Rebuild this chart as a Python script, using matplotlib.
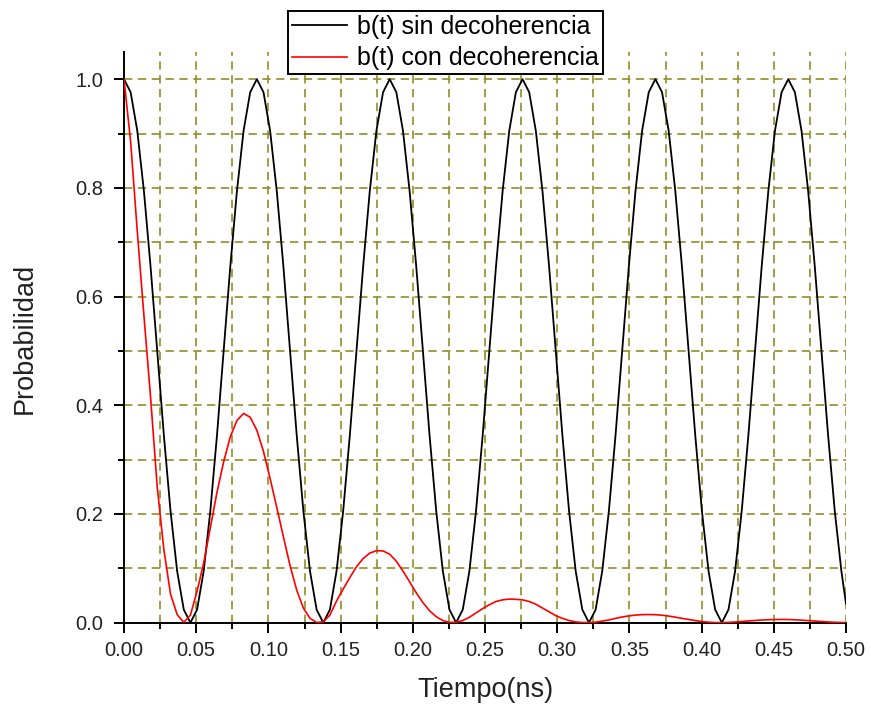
import matplotlib
matplotlib.use('Agg')
import matplotlib.pyplot as plt
from matplotlib.ticker import MultipleLocator, FormatStrFormatter

plt.rcParams['font.family'] = ['Liberation Sans', 'DejaVu Sans']

# time samples (ns)
t_ns = [
    0.0000, 0.0046, 0.0092, 0.0138, 0.0184, 0.0230, 0.0276, 0.0322, 0.0368, 0.0414,
    0.0460, 0.0506, 0.0552, 0.0598, 0.0644, 0.0690, 0.0736, 0.0782, 0.0828, 0.0874,
    0.0920, 0.0966, 0.1012, 0.1058, 0.1104, 0.1150, 0.1196, 0.1242, 0.1288, 0.1334,
    0.1380, 0.1426, 0.1472, 0.1518, 0.1564, 0.1610, 0.1656, 0.1702, 0.1748, 0.1794,
    0.1840, 0.1886, 0.1932, 0.1978, 0.2024, 0.2070, 0.2116, 0.2162, 0.2208, 0.2254,
    0.2300, 0.2346, 0.2392, 0.2438, 0.2484, 0.2530, 0.2576, 0.2622, 0.2668, 0.2714,
    0.2760, 0.2806, 0.2852, 0.2898, 0.2944, 0.2990, 0.3036, 0.3082, 0.3128, 0.3174,
    0.3220, 0.3266, 0.3312, 0.3358, 0.3404, 0.3450, 0.3496, 0.3542, 0.3588, 0.3634,
    0.3680, 0.3726, 0.3772, 0.3818, 0.3864, 0.3910, 0.3956, 0.4002, 0.4048, 0.4094,
    0.4140, 0.4186, 0.4232, 0.4278, 0.4324, 0.4370, 0.4416, 0.4462, 0.4508, 0.4554,
    0.4600, 0.4646, 0.4692, 0.4738, 0.4784, 0.4830, 0.4876, 0.4922, 0.4968, 0.5000,
]

# b(t) sin decoherencia
b_sin = [
    1.0, 0.976, 0.905, 0.794, 0.655, 0.5, 0.345, 0.206, 0.095, 0.024,
    0.0, 0.024, 0.095, 0.206, 0.345, 0.5, 0.655, 0.794, 0.905, 0.976,
    1.0, 0.976, 0.905, 0.794, 0.655, 0.5, 0.345, 0.206, 0.095, 0.024,
    0.0, 0.024, 0.095, 0.206, 0.345, 0.5, 0.655, 0.794, 0.905, 0.976,
    1.0, 0.976, 0.905, 0.794, 0.655, 0.5, 0.345, 0.206, 0.095, 0.024,
    0.0, 0.024, 0.095, 0.206, 0.345, 0.5, 0.655, 0.794, 0.905, 0.976,
    1.0, 0.976, 0.905, 0.794, 0.655, 0.5, 0.345, 0.206, 0.095, 0.024,
    0.0, 0.024, 0.095, 0.206, 0.345, 0.5, 0.655, 0.794, 0.905, 0.976,
    1.0, 0.976, 0.905, 0.794, 0.655, 0.5, 0.345, 0.206, 0.095, 0.024,
    0.0, 0.024, 0.095, 0.206, 0.345, 0.5, 0.655, 0.794, 0.905, 0.976,
    1.0, 0.976, 0.905, 0.794, 0.655, 0.5, 0.345, 0.206, 0.095, 0.035,
]

# b(t) con decoherencia
b_con = [
    1.0, 0.885, 0.72, 0.565, 0.415, 0.25, 0.135, 0.053, 0.015, 0.0005,
    0.014, 0.058, 0.11, 0.175, 0.24, 0.296, 0.342, 0.372, 0.385, 0.378,
    0.354, 0.315, 0.265, 0.212, 0.158, 0.105, 0.06, 0.027, 0.008, 0.0005,
    0.0015, 0.014, 0.04, 0.062, 0.083, 0.103, 0.118, 0.128, 0.1325, 0.132,
    0.126, 0.113, 0.095, 0.075, 0.055, 0.037, 0.022, 0.011, 0.004, 0.0005,
    0.001, 0.004, 0.010, 0.018, 0.026, 0.033, 0.039, 0.042, 0.0435, 0.043,
    0.042, 0.039, 0.034, 0.027, 0.020, 0.013, 0.008, 0.004, 0.0015, 0.0003,
    0.0002, 0.001, 0.003, 0.005, 0.008, 0.0105, 0.0125, 0.014, 0.0148, 0.015,
    0.0147, 0.0138, 0.0122, 0.0102, 0.008, 0.006, 0.004, 0.002, 0.001, 0.0002,
    0.0002, 0.0006, 0.0013, 0.0022, 0.0032, 0.0041, 0.0049, 0.0055, 0.0058, 0.006,
    0.0058, 0.0054, 0.0047, 0.0039, 0.003, 0.0022, 0.0014, 0.0008, 0.0004, 0.0002,
]

grid_col = '#8f8f2a'

fig = plt.figure(figsize=(8.71, 7.05), dpi=100)
ax = fig.add_axes([124 / 871, 1 - 622.7 / 705, 722 / 871, 570.7 / 705])

ax.plot(t_ns, b_sin, color='black', lw=1.3, label='b(t) sin decoherencia', zorder=3)
ax.plot(t_ns, b_con, color='red', lw=1.2, label='b(t) con decoherencia', zorder=3)

ax.set_xlim(0, 0.5)
ax.set_ylim(0, 1.05)
ax.xaxis.set_major_locator(MultipleLocator(0.05))
ax.xaxis.set_minor_locator(MultipleLocator(0.025))
ax.yaxis.set_major_locator(MultipleLocator(0.2))
ax.yaxis.set_minor_locator(MultipleLocator(0.1))
ax.xaxis.set_major_formatter(FormatStrFormatter('%.2f'))
ax.yaxis.set_major_formatter(FormatStrFormatter('%.1f'))

ax.grid(True, which='both', color=grid_col, lw=1.2, linestyle=(0, (5, 3.3)))
ax.set_axisbelow(True)

for s in ['top', 'right']:
    ax.spines[s].set_visible(False)
for s in ['left', 'bottom']:
    ax.spines[s].set_linewidth(1.4)

ax.tick_params(which='major', direction='out', length=7.2, width=1.4,
               labelsize=14.5, labelcolor='#222222')
ax.tick_params(which='minor', direction='out', length=4.3, width=1.4)
ax.tick_params(axis='x', which='major', pad=6)
ax.tick_params(axis='y', which='major', pad=7.5)

fig.text(485 / 871, 1 - 690 / 705, 'Tiempo(ns)', ha='center', va='center',
         fontsize=19.5, color='#222222')
fig.text(25 / 871, 1 - 338 / 705, 'Probabilidad', ha='center', va='center',
         rotation=90, fontsize=19.5, color='#222222')

leg = fig.legend(loc='upper left', bbox_to_anchor=(288 / 871, 1 - 11 / 705),
                 bbox_transform=fig.transFigure, fontsize=18, frameon=True,
                 fancybox=False, shadow=False, borderaxespad=0, borderpad=0.15,
                 handlelength=2.2, handletextpad=0.42, labelspacing=0.3)
leg.get_frame().set_edgecolor('black')
leg.get_frame().set_linewidth(1.4)
leg.get_frame().set_facecolor('white')
leg.get_frame().set_alpha(1)

fig.savefig('out.png', dpi=100)
